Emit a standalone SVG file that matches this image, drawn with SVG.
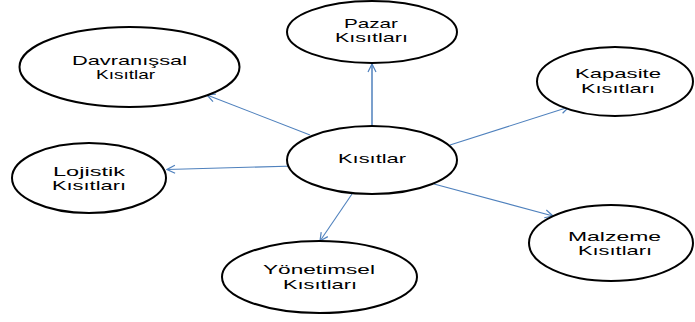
<svg xmlns="http://www.w3.org/2000/svg" width="695" height="322" viewBox="0 0 695 322">
  <defs>
    <style>
      .node ellipse { fill: #ffffff; stroke: #000000; stroke-width: 2; }
      .node text { font-family: "Liberation Sans", Arial, sans-serif; font-size: 13px; fill: #000000; text-anchor: middle; }
      .edge { stroke: #4F81BD; stroke-width: 1.1; fill: none; marker-end: url(#open-arrow); }
    </style>
    <marker id="open-arrow" viewBox="0 0 10 10" refX="9" refY="5" markerWidth="10" markerHeight="10" markerUnits="userSpaceOnUse" orient="auto">
      <path d="M1,1 L9,5 L1,9" fill="none" stroke="#4F81BD" stroke-width="1.2"/>
    </marker>
  </defs>

  <rect width="695" height="322" fill="#ffffff"/>

  <g id="connectors">
    <line class="edge" x1="372" y1="126" x2="372" y2="64" style="stroke-width:1.5"/>
    <line class="edge" x1="310" y1="135" x2="207" y2="95"/>
    <line class="edge" x1="295" y1="166" x2="167" y2="169.5"/>
    <line class="edge" x1="450" y1="145" x2="569" y2="107"/>
    <line class="edge" x1="434" y1="184" x2="553" y2="216"/>
    <line class="edge" x1="352" y1="194" x2="320" y2="241"/>
  </g>

  <g id="node-center" class="node">
    <ellipse cx="372" cy="160" rx="85" ry="34"/>
    <text x="372" y="163" textLength="68" lengthAdjust="spacingAndGlyphs">Kısıtlar</text>
  </g>

  <g id="node-pazar" class="node">
    <ellipse cx="372" cy="32" rx="85" ry="31"/>
    <text x="371" y="28" textLength="54" lengthAdjust="spacingAndGlyphs">Pazar</text>
    <text x="371.5" y="42" textLength="73" lengthAdjust="spacingAndGlyphs">Kısıtları</text>
  </g>

  <g id="node-davranissal" class="node">
    <ellipse cx="129.5" cy="67" rx="110" ry="40"/>
    <text x="129.5" y="65" textLength="115" lengthAdjust="spacingAndGlyphs">Davranışsal</text>
    <text x="125.5" y="79" textLength="59" lengthAdjust="spacingAndGlyphs">Kısıtlar</text>
  </g>

  <g id="node-kapasite" class="node">
    <ellipse cx="615" cy="81.5" rx="78" ry="34.5"/>
    <text x="618" y="78" textLength="86" lengthAdjust="spacingAndGlyphs">Kapasite</text>
    <text x="618" y="93" textLength="74" lengthAdjust="spacingAndGlyphs">Kısıtları</text>
  </g>

  <g id="node-lojistik" class="node">
    <ellipse cx="89" cy="178" rx="77" ry="35"/>
    <text x="89" y="176" textLength="72" lengthAdjust="spacingAndGlyphs">Lojistik</text>
    <text x="89" y="190" textLength="74" lengthAdjust="spacingAndGlyphs">Kısıtları</text>
  </g>

  <g id="node-yonetimsel" class="node">
    <ellipse cx="319.5" cy="277" rx="97.5" ry="36"/>
    <text x="319" y="274" textLength="112" lengthAdjust="spacingAndGlyphs">Yönetimsel</text>
    <text x="320" y="289" textLength="74" lengthAdjust="spacingAndGlyphs">Kısıtları</text>
  </g>

  <g id="node-malzeme" class="node">
    <ellipse cx="611" cy="243" rx="82" ry="38"/>
    <text x="614.5" y="241" textLength="93" lengthAdjust="spacingAndGlyphs">Malzeme</text>
    <text x="615" y="255" textLength="74" lengthAdjust="spacingAndGlyphs">Kısıtları</text>
  </g>
</svg>
